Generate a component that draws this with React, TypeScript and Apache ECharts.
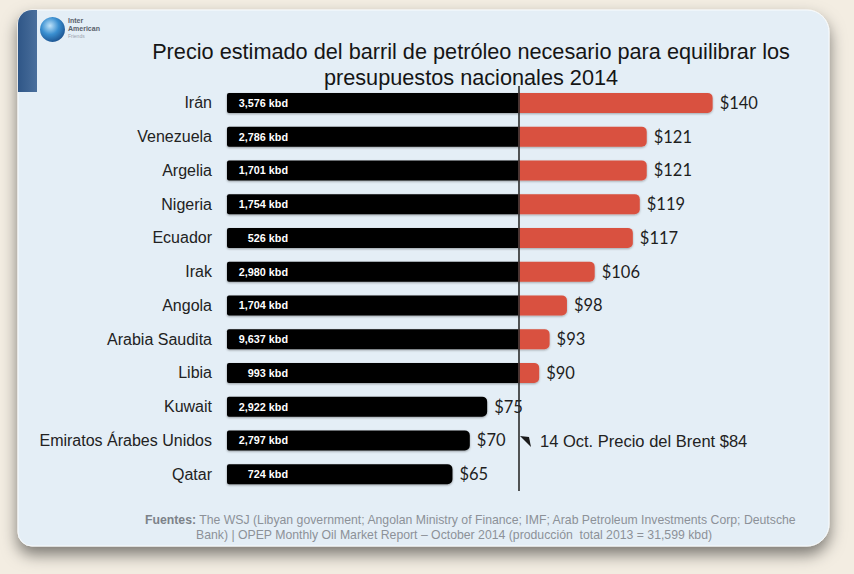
import React, { useEffect, useRef } from "react";
import * as echarts from "echarts";

const countries = [
  "Irán",
  "Venezuela",
  "Argelia",
  "Nigeria",
  "Ecuador",
  "Irak",
  "Angola",
  "Arabia Saudita",
  "Libia",
  "Kuwait",
  "Emiratos Árabes Unidos",
  "Qatar",
];
const breakEvenPrice = [140, 121, 121, 119, 117, 106, 98, 93, 90, 75, 70, 65];
const productionKbd = [3576, 2786, 1701, 1754, 526, 2980, 1704, 9637, 993, 2922, 2797, 724];
const brentPrice = 84;

const titleText =
  "Precio estimado del barril de petróleo necesario para equilibrar los\npresupuestos nacionales 2014";
const brentNote = "14 Oct. Precio del Brent $84";
const sourceLine1 =
  "The WSJ (Libyan government; Angolan Ministry of Finance; IMF; Arab Petroleum Investments Corp; Deutsche";
const sourceLine2 =
  "Bank) | OPEP Monthly Oil Market Report – October 2014 (producción  total 2013 = 31,599 kbd)";

const fmtKbd = (n: number) => n.toLocaleString("en-US") + " kbd";

export default function App() {
  const ref = useRef<HTMLDivElement>(null);

  useEffect(() => {
    if (!ref.current) return;
    const chart = echarts.init(ref.current, null, { renderer: "svg" });

    const blackData = breakEvenPrice.map((v) => ({
      value: Math.min(v, brentPrice),
      itemStyle: {
        borderRadius: v > brentPrice ? [2, 0, 0, 2] : [2, 5, 5, 2],
      },
    }));
    const redData = breakEvenPrice.map((v) => Math.max(0, v - brentPrice));

    const option: any = {
      animation: false,
      backgroundColor: "transparent",
      title: {
        text: titleText,
        left: 466,
        top: 33,
        textAlign: "center",
        textStyle: {
          fontFamily: "Liberation Sans, Arial, sans-serif",
          fontSize: 21.7,
          fontWeight: "normal",
          color: "#151515",
          lineHeight: 26,
        },
      },
      graphic: [
        {
          type: "rect",
          z: -10,
          shape: { x: 18, y: 10, width: 811, height: 536, r: [14, 22, 22, 14] },
          style: {
            fill: "#e4eef6",
            stroke: "#f7fbfe",
            lineWidth: 1,
            shadowBlur: 16,
            shadowOffsetY: 8,
            shadowColor: "rgba(0,0,0,0.5)",
          },
        },
        {
          type: "rect",
          z: -9,
          shape: { x: 18, y: 10, width: 19, height: 82, r: [14, 0, 0, 0] },
          style: {
            fill: new echarts.graphic.LinearGradient(0, 0, 1, 0, [
              { offset: 0, color: "#2f5687" },
              { offset: 1, color: "#4a6f9c" },
            ]),
          },
        },
        {
          type: "circle",
          z: -8,
          shape: { cx: 52.5, cy: 29.5, r: 12.5 },
          style: {
            fill: new echarts.graphic.RadialGradient(0.4, 0.35, 0.7, [
              { offset: 0, color: "#bfe3fa" },
              { offset: 0.5, color: "#3a8fd0" },
              { offset: 1, color: "#1a4f8c" },
            ]),
          },
        },
        {
          type: "text",
          z: -8,
          style: {
            x: 68,
            y: 17,
            text: "Inter\nAmerican",
            fill: "#5a616b",
            font: "bold 7px Liberation Sans, Arial, sans-serif",
            lineHeight: 7.5,
          },
        },
        {
          type: "text",
          z: -8,
          style: {
            x: 68,
            y: 33,
            text: "Friends",
            fill: "#9aa3ad",
            font: "5px Liberation Sans, Arial, sans-serif",
          },
        },
        {
          type: "polygon",
          z: 10,
          shape: { points: [[520, 436], [529, 437], [531, 447]] },
          style: { fill: "#1a1a1a" },
        },
        {
          type: "text",
          z: 10,
          style: {
            x: 540,
            y: 441,
            text: brentNote,
            fill: "#222222",
            font: "16.5px Liberation Sans, Arial, sans-serif",
            verticalAlign: "middle",
          },
        },
        {
          type: "text",
          z: 10,
          style: {
            x: 145,
            y: 520,
            text: "{b|Fuentes:} " + sourceLine1,
            fill: "#8c9198",
            font: "12.25px Liberation Sans, Arial, sans-serif",
            verticalAlign: "middle",
            rich: {
              b: {
                fill: "#7c8289",
                font: "bold 12.25px Liberation Sans, Arial, sans-serif",
              },
            },
          },
        },
        {
          type: "text",
          z: 10,
          style: {
            x: 196,
            y: 535,
            text: sourceLine2,
            fill: "#8c9198",
            font: "12.25px Liberation Sans, Arial, sans-serif",
            verticalAlign: "middle",
          },
        },
      ],
      grid: {
        left: 227,
        width: 555,
        top: 86,
        height: 405,
        containLabel: false,
        outerBoundsMode: "none",
      },
      xAxis: {
        type: "value",
        min: 0,
        max: 160,
        show: false,
        splitLine: { show: false },
      },
      yAxis: {
        type: "category",
        inverse: true,
        data: countries,
        axisLine: { show: false },
        axisTick: { show: false },
        axisLabel: {
          margin: 15,
          fontFamily: "Liberation Sans, Arial, sans-serif",
          fontSize: 16,
          color: "#222222",
        },
      },
      series: [
        {
          type: "bar",
          stack: "precio",
          barWidth: 20,
          data: blackData,
          itemStyle: {
            color: "#000000",
            shadowBlur: 2,
            shadowOffsetY: 1,
            shadowColor: "rgba(0,0,0,0.35)",
          },
          label: {
            show: true,
            position: [61, "50%"],
            align: "right",
            verticalAlign: "middle",
            formatter: (p: any) => fmtKbd(productionKbd[p.dataIndex]),
            color: "#ffffff",
            fontFamily: "Liberation Sans, Arial, sans-serif",
            fontWeight: "bold",
            fontSize: 10.8,
          },
        },
        {
          type: "bar",
          stack: "precio",
          barWidth: 20,
          data: redData,
          itemStyle: {
            color: "#d9513f",
            borderRadius: [0, 5, 5, 0],
            shadowBlur: 2,
            shadowOffsetY: 1,
            shadowColor: "rgba(0,0,0,0.3)",
          },
          label: {
            show: true,
            position: "right",
            distance: 7,
            formatter: (p: any) => "$" + breakEvenPrice[p.dataIndex],
            color: "#1e1e1e",
            fontFamily: "Lato, Open Sans, sans-serif",
            fontSize: 16.5,
          },
          markLine: {
            silent: true,
            symbol: "none",
            label: { show: false },
            lineStyle: { color: "#2b2b2b", width: 1.6, type: "solid" },
            data: [{ xAxis: brentPrice }],
            z: 5,
          },
        },
      ],
    };

    chart.setOption(option);
    return () => chart.dispose();
  }, []);

  return (
    <div
      style={{
        position: "fixed",
        left: 0,
        top: 0,
        width: 854,
        height: 574,
        background: "#f3ede2",
      }}
    >
      <div ref={ref} style={{ width: 854, height: 574 }} />
    </div>
  );
}
